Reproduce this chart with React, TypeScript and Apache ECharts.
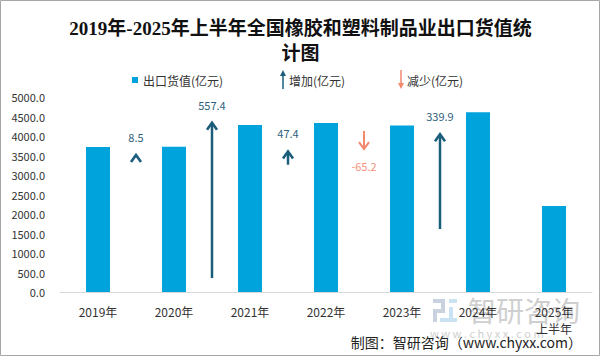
import React, { useEffect, useRef } from "react";
import * as echarts from "echarts";

const categories = ["2019年", "2020年", "2021年", "2022年", "2023年", "2024年", "2025年\n上半年"];
const exportValues = [3718.5, 3727.0, 4284.4, 4331.8, 4266.6, 4606.5, 2205.0];
const changeValues = [8.5, 557.4, 47.4, -65.2, 339.9];
// arrow base values on the hidden secondary axis (0-700)
const arrowStarts = [483, 50, 457, 578, 226];
const yTicks = { min: 0, max: 5000, interval: 500 };

const BAR = "#00a3dc";
const UP = "#1b5e7b";
const UP_TXT = "#2f5f7c";
const DOWN = "#f2886e";
const DOWN_TXT = "#f4917a";

export default function App() {
  const ref = useRef<HTMLDivElement>(null);
  useEffect(() => {
    if (!ref.current) return;
    const chart = echarts.init(ref.current, null, { renderer: "svg" });
    const arrowData = changeValues.map((c, i) => [i + 1, arrowStarts[i], arrowStarts[i] + c, c]);
    const font = "'Noto Sans CJK SC', 'Noto Sans', sans-serif";
    chart.setOption({
      animation: false,
      backgroundColor: "#ffffff",
      title: {
        text: "2019年-2025年上半年全国橡胶和塑料制品业出口货值统\n计图",
        left: "center",
        top: 11,
        textStyle: {
          fontSize: 19,
          lineHeight: 25,
          fontWeight: "bold",
          color: "#111",
          fontFamily: "'Liberation Serif', 'Noto Sans CJK SC', serif",
        },
      },
      grid: { left: 60, right: 9, top: 97, bottom: 64 },
      xAxis: [
        {
          type: "category",
          data: categories,
          axisTick: { show: false },
          axisLine: { lineStyle: { color: "#d9d9d9", width: 1 } },
          axisLabel: { color: "#333", fontSize: 12, margin: 11, lineHeight: 17, fontFamily: font },
        },
        { type: "value", min: 0, max: 7, show: false },
      ],
      yAxis: [
        {
          type: "value",
          min: yTicks.min,
          max: yTicks.max,
          interval: yTicks.interval,
          axisLine: { show: false },
          axisTick: { show: false },
          splitLine: { show: false },
          axisLabel: {
            color: "#333",
            fontSize: 11,
            margin: 15,
            fontFamily: font,
            formatter: (v: number) => v.toFixed(1),
          },
        },
        { type: "value", min: 0, max: 700, show: false },
      ],
      series: [
        {
          name: "出口货值(亿元)",
          type: "bar",
          data: exportValues,
          barWidth: 24,
          itemStyle: { color: BAR },
        },
        {
          name: "增减(亿元)",
          type: "custom",
          xAxisIndex: 1,
          yAxisIndex: 1,
          clip: false,
          data: arrowData,
          renderItem: (params: any, api: any) => {
            const x = api.value(0);
            const s = api.value(1);
            const e = api.value(2);
            const ch = api.value(3);
            const p0 = api.coord([x, s]);
            const p1 = api.coord([x, e]);
            const up = ch >= 0;
            const col = up ? UP : DOWN;
            const px = p1[0];
            const py = p1[1];
            const d = up ? 7 : -7;
            return {
              type: "group",
              children: [
                {
                  type: "line",
                  shape: { x1: p0[0], y1: p0[1], x2: px, y2: py + (up ? 1 : -1) },
                  style: { stroke: col, lineWidth: up ? 2.5 : 2 },
                },
                {
                  type: "polyline",
                  shape: { points: [[px - 5, py + d], [px, py], [px + 5, py + d]] },
                  style: { stroke: col, lineWidth: up ? 2.6 : 2, fill: null },
                },
                {
                  type: "text",
                  style: {
                    text: ch.toFixed(1),
                    x: px,
                    y: up ? py - 18 : py + 17,
                    align: "center",
                    verticalAlign: "middle",
                    fill: up ? UP_TXT : DOWN_TXT,
                    fontSize: 11,
                    fontFamily: font,
                  },
                },
              ],
            };
          },
        },
      ],
      graphic: [
        // outer frame
        {
          type: "rect",
          silent: true,
          shape: { x: 0.5, y: 0.5, width: 599, height: 355 },
          style: { fill: null, stroke: "#a6a6a6", lineWidth: 1 },
        },
        // legend: bars
        { type: "rect", shape: { x: 132, y: 77, width: 6, height: 6 }, style: { fill: BAR } },
        {
          type: "text",
          x: 143,
          y: 80,
          style: { text: "出口货值(亿元)", fontSize: 12, fill: "#333", verticalAlign: "middle", fontFamily: font },
        },
        // legend: up arrow
        { type: "line", shape: { x1: 283, y1: 89, x2: 283, y2: 74 }, style: { stroke: UP, lineWidth: 1.5 } },
        { type: "polygon", shape: { points: [[280, 76], [283, 70], [286, 76]] }, style: { fill: UP } },
        {
          type: "text",
          x: 289,
          y: 80,
          style: { text: "增加(亿元)", fontSize: 12, fill: "#333", verticalAlign: "middle", fontFamily: font },
        },
        // legend: down arrow
        { type: "line", shape: { x1: 401, y1: 70, x2: 401, y2: 85 }, style: { stroke: DOWN, lineWidth: 1.5 } },
        { type: "polygon", shape: { points: [[398, 83], [401, 89], [404, 83]] }, style: { fill: DOWN } },
        {
          type: "text",
          x: 407,
          y: 80,
          style: { text: "减少(亿元)", fontSize: 12, fill: "#333", verticalAlign: "middle", fontFamily: font },
        },
        // watermark
        {
          type: "group",
          silent: true,
          z: -1,
          children: [
            { type: "rect", shape: { x: 433, y: 299, width: 12, height: 4 }, style: { fill: "#c9d3e0" } },
            { type: "rect", shape: { x: 441, y: 299, width: 4, height: 12 }, style: { fill: "#c9d3e0" } },
            { type: "rect", shape: { x: 433, y: 309, width: 12, height: 4 }, style: { fill: "#c9d3e0" } },
            { type: "rect", shape: { x: 433, y: 309, width: 4, height: 13 }, style: { fill: "#c9d3e0" } },
            { type: "rect", shape: { x: 449, y: 299, width: 8, height: 4 }, style: { fill: "#c9e3f2" } },
            { type: "rect", shape: { x: 449, y: 307, width: 4, height: 15 }, style: { fill: "#c9e3f2" } },
            { type: "rect", shape: { x: 440, y: 318, width: 17, height: 4 }, style: { fill: "#c9e3f2" } },
            {
              type: "text",
              x: 468,
              y: 310,
              style: { text: "智研咨询", fontSize: 28, fill: "#cfcfcf", verticalAlign: "middle", fontFamily: font },
            },
            {
              type: "text",
              x: 430,
              y: 333,
              style: {
                text: "w w w . c h y x x . c o m",
                fontSize: 11,
                fill: "#cfcfcf",
                verticalAlign: "middle",
                fontFamily: font,
              },
            },
          ],
        },
        // source
        {
          type: "text",
          right: 19,
          top: 335,
          style: { text: "制图：智研咨询（www.chyxx.com）", fontSize: 14, fill: "#222", fontFamily: font },
        },
      ],
    });
    return () => chart.dispose();
  }, []);
  return (
    <div
      ref={ref}
      style={{ position: "fixed", left: 0, top: 0, width: 601, height: 356, background: "#fff" }}
    />
  );
}
